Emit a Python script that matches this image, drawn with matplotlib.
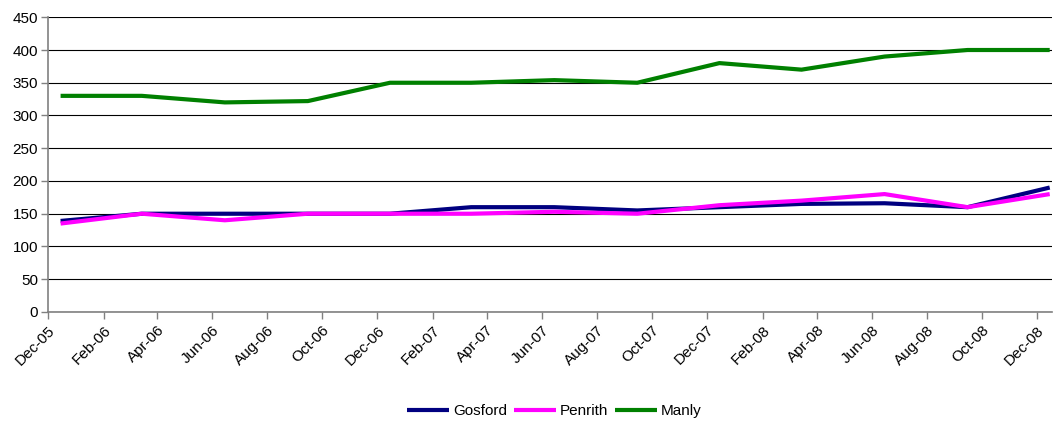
import matplotlib
matplotlib.use("Agg")
import matplotlib.pyplot as plt
import matplotlib.dates as mdates
import numpy as np
from datetime import datetime

plt.rcParams['font.family'] = ['Liberation Sans', 'DejaVu Sans']

# quarterly observations, mid-month
dates = [datetime(2005, 12, 15), datetime(2006, 3, 15), datetime(2006, 6, 15),
         datetime(2006, 9, 15), datetime(2006, 12, 15), datetime(2007, 3, 15),
         datetime(2007, 6, 15), datetime(2007, 9, 15), datetime(2007, 12, 15),
         datetime(2008, 3, 15), datetime(2008, 6, 15), datetime(2008, 9, 15),
         datetime(2008, 12, 15)]
gosford = [139, 150, 150, 150, 150, 160, 160, 155, 160, 165, 166, 160, 190]
penrith = [135, 150, 140, 150, 150, 150, 153, 150, 163, 170, 180, 160, 180]
manly = [330, 330, 320, 322, 350, 350, 354, 350, 380, 370, 390, 400, 400]

series = [("Gosford", gosford, "#000080"),
          ("Penrith", penrith, "#FF00FF"),
          ("Manly", manly, "#008000")]

fig = plt.figure(figsize=(10.54, 4.21), dpi=100)
ax = fig.add_axes([0.0455, 0.259, 0.953, 0.700])

for name, vals, col in series:
    ax.plot(dates, vals, color=col, lw=3, label=name, solid_capstyle='butt')

ax.set_ylim(0, 450)
ax.set_yticks(np.arange(0, 451, 50))
ax.set_xlim(datetime(2005, 12, 1), datetime(2008, 12, 18))
ax.xaxis.set_major_locator(mdates.MonthLocator(bymonth=[2, 4, 6, 8, 10, 12]))
ax.xaxis.set_major_formatter(mdates.DateFormatter('%b-%y'))
for lbl in ax.get_xticklabels():
    lbl.set_rotation(45)
    lbl.set_ha('right')
    lbl.set_rotation_mode('anchor')

ax.grid(axis='y', color='black', lw=0.8)
ax.set_axisbelow(True)
for s in ['top', 'right']:
    ax.spines[s].set_visible(False)
for s in ['left', 'bottom']:
    ax.spines[s].set_color('#808080')
    ax.spines[s].set_linewidth(1.2)
ax.tick_params(axis='both', colors='black', length=5, width=1, direction='out')
ax.tick_params(axis='both', color='#808080')
ax.tick_params(axis='x', labelsize=11, pad=3)
ax.tick_params(axis='y', labelsize=11, pad=2)

fig.legend(loc='center', bbox_to_anchor=(0.526, 0.024), ncol=3,
           frameon=False, fontsize=11, handlelength=2.75, handletextpad=0.26,
           columnspacing=0.45, borderpad=0, borderaxespad=0)

fig.savefig("out.png", dpi=100)
